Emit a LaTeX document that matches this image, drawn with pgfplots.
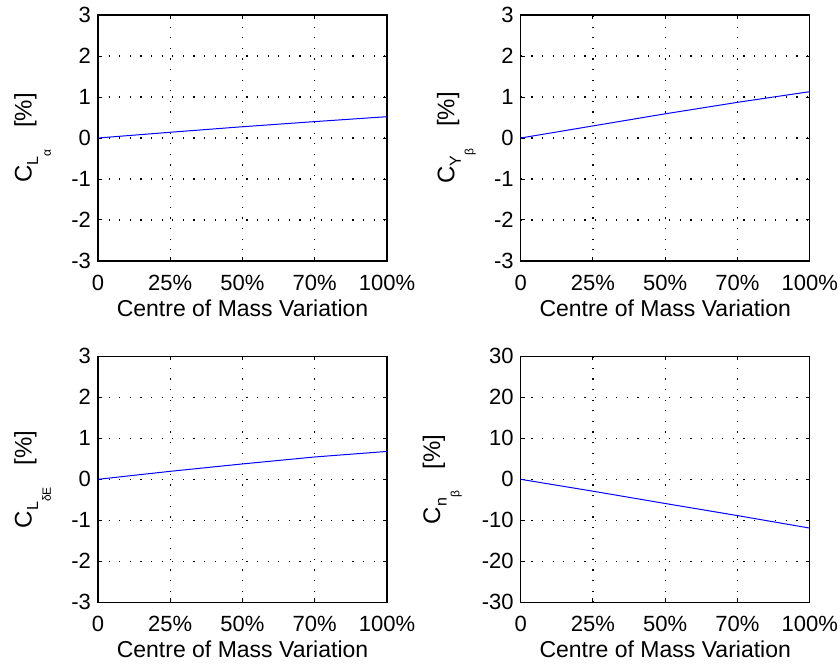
\documentclass[border=0pt]{standalone}
\usepackage{pgfplots}
\pgfplotsset{compat=1.18}
\usepackage{fontspec}
\setmainfont{Liberation Sans}
\newcommand{\sub}[2]{\raisebox{-3.3pt}{\fontsize{8}{8}\selectfont #1\raisebox{-6.3pt}{\fontsize{6}{6}\selectfont #2}}}
\pgfplotsset{mystyle/.style={
  scale only axis, width=144.5pt, height=123pt,
  xmin=0, xmax=100,
  xtick={0,25,50,75,100}, xticklabels={0,25\%,50\%,70\%,100\%},
  grid=major,
  grid style={black, line width=0.6pt, dash pattern=on 0.6pt off 4.7pt},
  axis line style={black, line width=0.7pt},
  tick align=inside, major tick length=2pt,
  tick style={black, line width=0.5pt},
  ticklabel style={font=\fontsize{11}{13}\selectfont},
  /pgf/number format/assume math mode=true,
  xticklabel style={anchor=base, yshift=-14.6pt},
  xlabel={Centre of Mass Variation},
  xlabel style={font=\fontsize{11.5}{14}\selectfont, at={(axis description cs:0.5,-0.225)}, anchor=base},
  ylabel style={font=\fontsize{12}{14}\selectfont, at={(axis description cs:-0.2298,0.5)}, anchor=base},
}}
\begin{document}
\begin{tikzpicture}
\useasboundingbox (0,0) rectangle (420pt,332pt);
\begin{axis}[mystyle, at={(49pt,201.5pt)}, anchor=south west,
  ymin=-3, ymax=3, ytick={-3,-2,-1,0,1,2,3},
  ylabel={C\sub{L}{α}\hspace{11pt}[\%]}]
\addplot[blue, line width=0.5pt, no markers] coordinates {(0,0) (25,0.14) (50,0.275) (75,0.40) (100,0.52)};
\end{axis}
\begin{axis}[mystyle, at={(260.35pt,201.5pt)}, anchor=south west,
  ymin=-3, ymax=3, ytick={-3,-2,-1,0,1,2,3},
  ylabel={C\sub{Y}{β}\hspace{11pt}[\%]}]
\addplot[blue, line width=0.5pt, no markers] coordinates {(0,0) (25,0.295) (50,0.59) (75,0.87) (100,1.13)};
\end{axis}
\begin{axis}[mystyle, at={(49pt,30.85pt)}, anchor=south west,
  ymin=-3, ymax=3, ytick={-3,-2,-1,0,1,2,3},
  ylabel={C\sub{L}{δE}\hspace{11pt}[\%]}]
\addplot[blue, line width=0.5pt, no markers] coordinates {(0,0) (25,0.195) (50,0.375) (75,0.545) (100,0.68)};
\end{axis}
\begin{axis}[mystyle, at={(260.35pt,30.85pt)}, anchor=south west,
  ymin=-30, ymax=30, ytick={-30,-20,-10,0,10,20,30},
  ylabel style={at={(axis description cs:-0.279,0.5)}},
  ylabel={C\sub{n}{β}\hspace{11pt}[\%]}]
\addplot[blue, line width=0.5pt, no markers] coordinates {(0,0) (25,-2.9) (50,-5.9) (75,-8.85) (100,-11.9)};
\end{axis}
\end{tikzpicture}
\end{document}
